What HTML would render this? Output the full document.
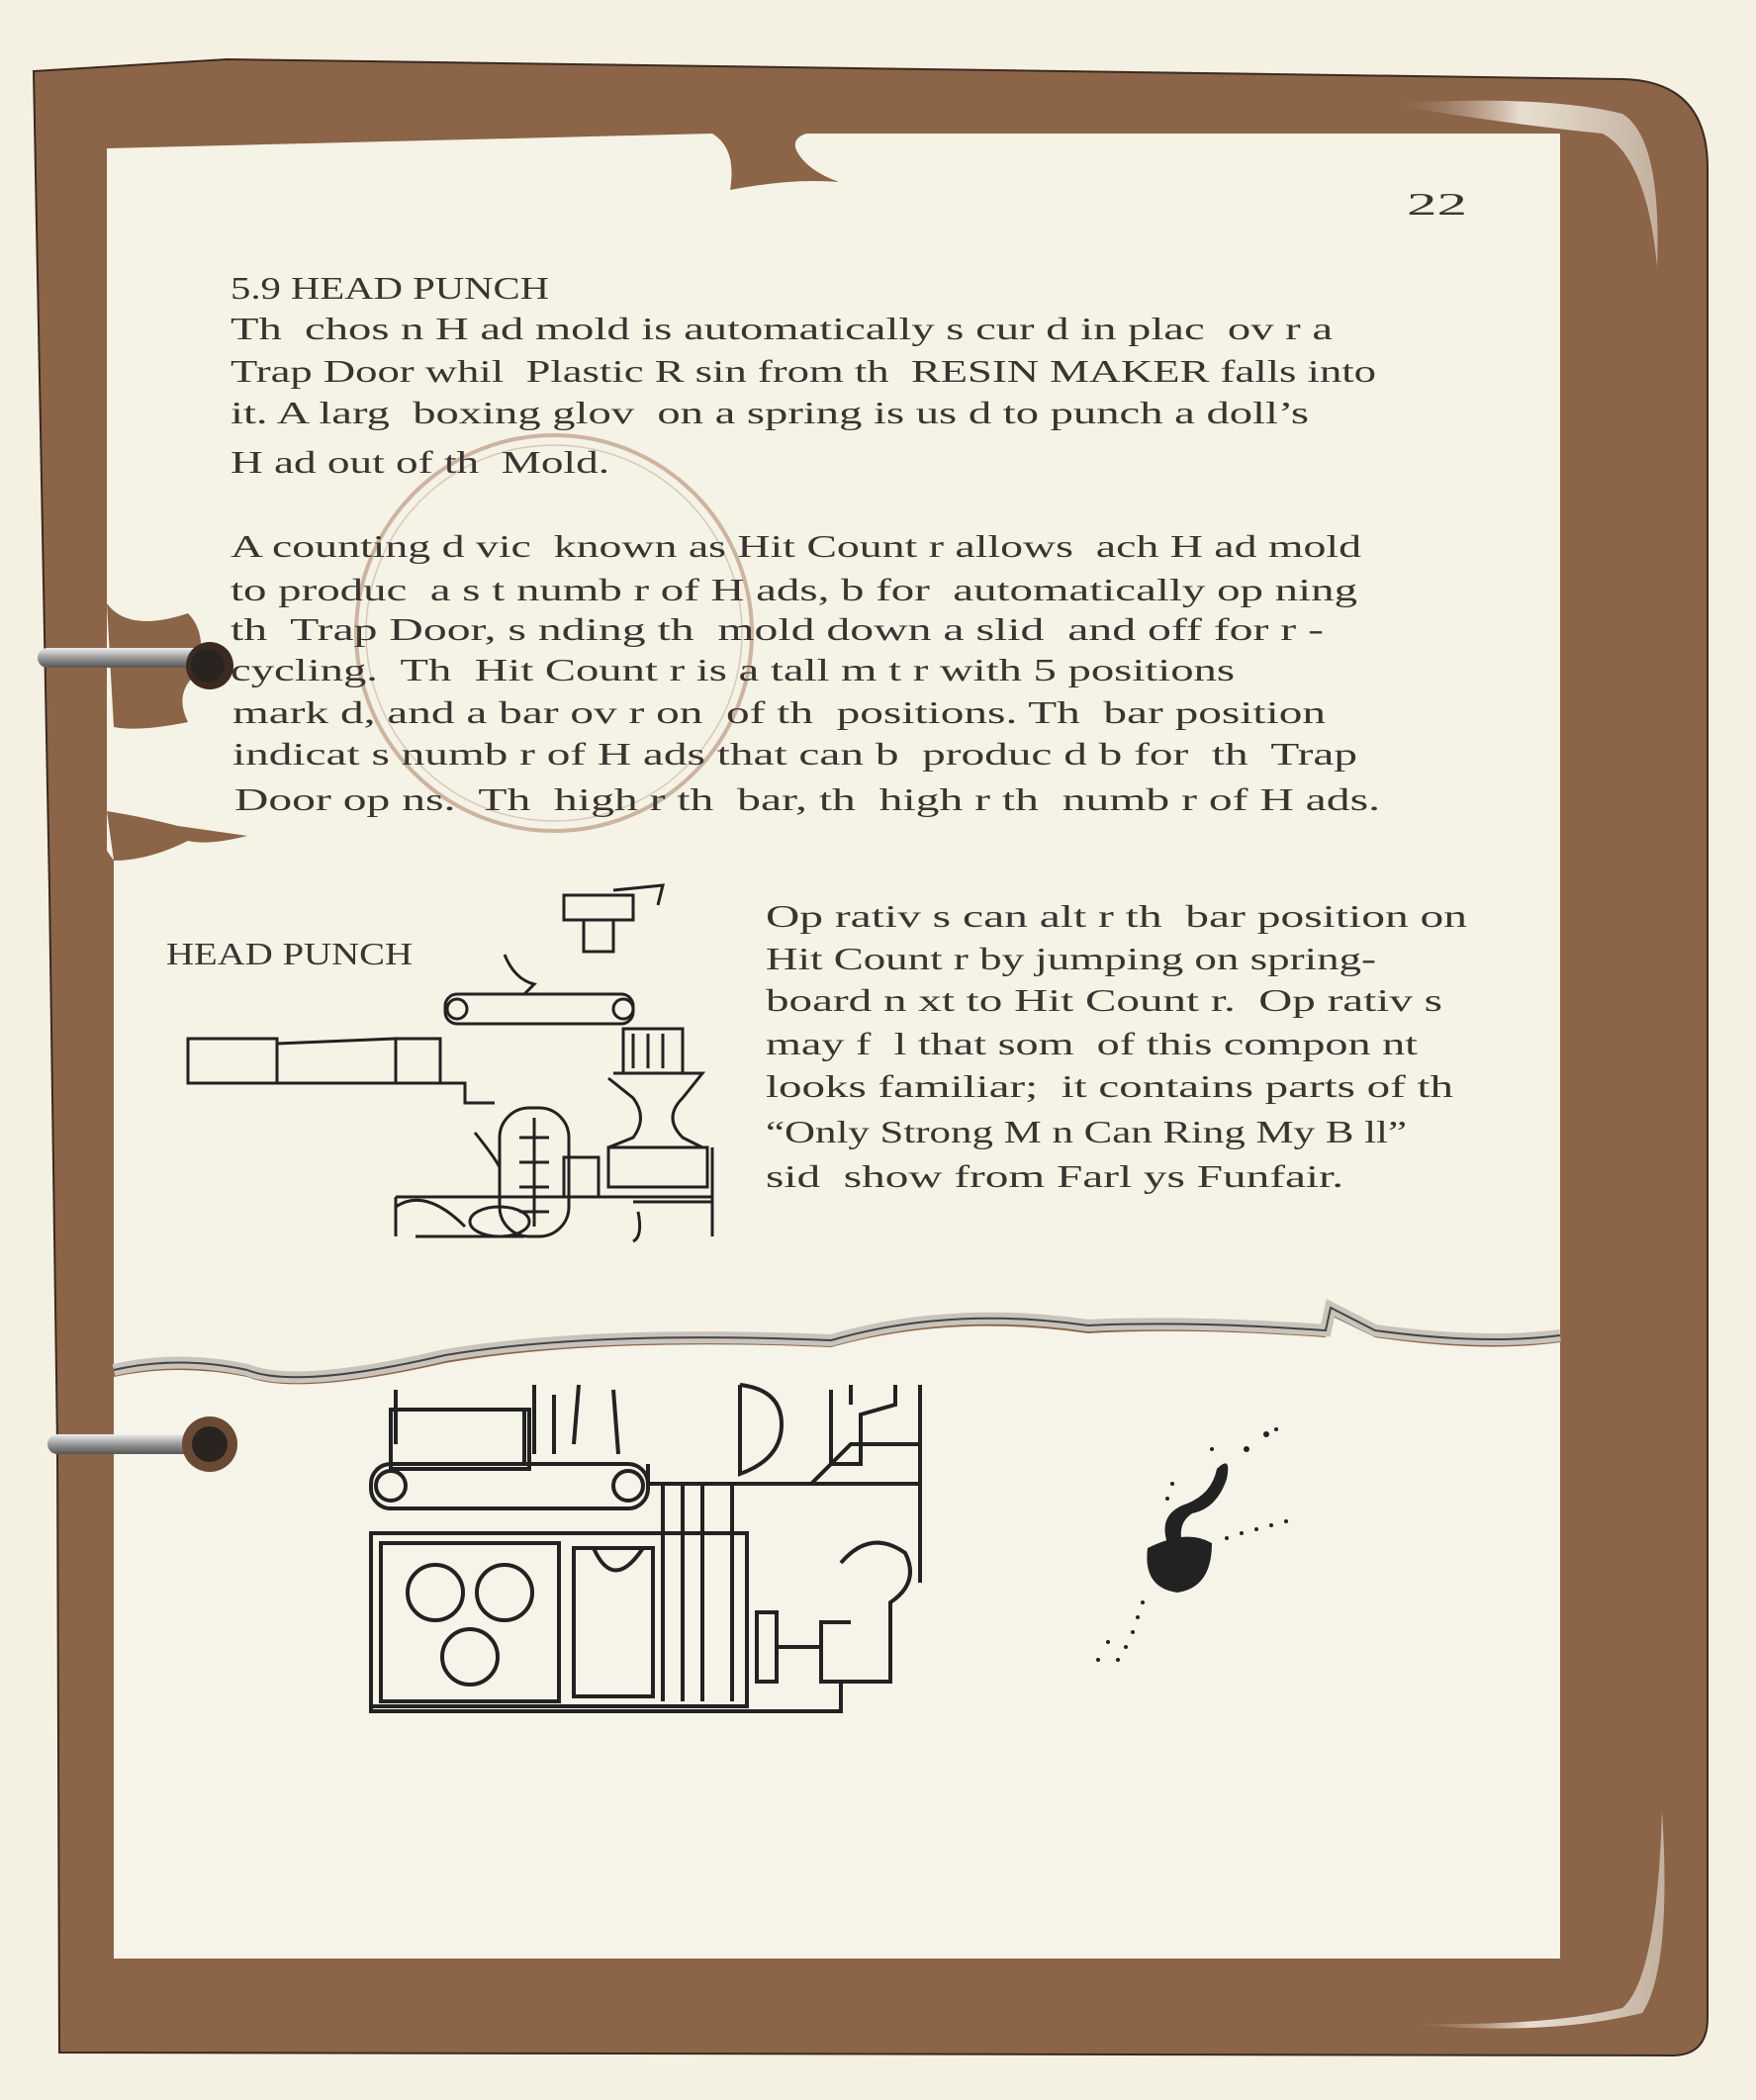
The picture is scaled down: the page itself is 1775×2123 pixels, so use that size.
<!DOCTYPE html>
<html><head><meta charset="utf-8"><style>
html,body{margin:0;padding:0;background:#f4f0e2;}
svg{display:block}
text{font-family:"Liberation Serif",serif;fill:#3a3430;font-size:32px}
</style></head><body>
<svg width="1775" height="2123" viewBox="0 0 1775 2123" xmlns="http://www.w3.org/2000/svg">
<defs>
<linearGradient id="rod" x1="0" y1="0" x2="0" y2="1"><stop offset="0" stop-color="#eee"/><stop offset="0.5" stop-color="#999"/><stop offset="1" stop-color="#555"/></linearGradient>
<linearGradient id="hl" x1="0" y1="0" x2="1" y2="0"><stop offset="0" stop-color="#8c6448" stop-opacity="0"/><stop offset="0.5" stop-color="#f2ece0"/><stop offset="1" stop-color="#c9b9a8"/></linearGradient>
</defs>
<rect width="1775" height="2123" fill="#f4f0e2"/>
<path d="M34 72 L230 60 L1640 80 Q1726 82 1726 170 L1726 2040 Q1726 2078 1690 2078 L60 2075 L58 1460 L50 900 Z" fill="#8c6448" stroke="#3a2a20" stroke-width="2"/>
<path d="M1400 105 Q1560 95 1640 115 Q1680 140 1675 270 Q1665 160 1620 135 Q1520 125 1400 105 Z" fill="url(#hl)" opacity="0.9"/>
<path d="M1410 2045 Q1560 2050 1640 2030 Q1675 2000 1680 1830 Q1690 1990 1660 2035 Q1560 2060 1410 2045 Z" fill="url(#hl)" opacity="0.9"/>
<path d="M108 150 L720 135 Q745 150 738 192 Q800 180 848 184 Q815 172 805 152 Q800 140 815 135 L1577 135 L1577 1350 Q1500 1360 1390 1345 L1345 1322 L1340 1345 Q1200 1335 1100 1340 Q960 1320 840 1355 Q600 1345 450 1370 Q300 1405 250 1385 Q180 1370 115 1385 L115 870 L108 860 Z" fill="#f5f2e6"/>
<path d="M108 610 Q130 640 190 620 Q210 640 200 680 Q175 700 190 730 Q140 740 115 735 Z" fill="#8c6448"/>
<path d="M108 820 Q140 825 180 835 Q215 840 250 845 Q210 855 190 850 Q150 870 115 870 Z" fill="#8c6448"/>
<path d="M115 1392 Q180 1378 250 1392 Q300 1412 450 1378 Q600 1352 840 1362 Q960 1328 1100 1348 Q1200 1342 1340 1352 L1345 1330 L1390 1352 Q1500 1368 1577 1357 L1577 1980 L115 1980 Z" fill="#f6f3e8"/>
<path d="M115 1385 Q180 1370 250 1385 Q300 1405 450 1370 Q600 1345 840 1355 Q960 1320 1100 1340 Q1200 1335 1340 1345 L1345 1322 L1390 1345 Q1500 1360 1577 1350" fill="none" stroke="#c8c4bc" stroke-width="12"/>
<path d="M115 1385 Q180 1370 250 1385 Q300 1405 450 1370 Q600 1345 840 1355 Q960 1320 1100 1340 Q1200 1335 1340 1345 L1345 1322 L1390 1345 Q1500 1360 1577 1350" fill="none" stroke="#444" stroke-width="2"/>
<rect x="38" y="655" width="175" height="20" rx="10" fill="url(#rod)"/>
<circle cx="212" cy="673" r="24" fill="#3a2a20"/><circle cx="210" cy="673" r="17" fill="#2a2420"/>
<rect x="48" y="1450" width="165" height="20" rx="10" fill="url(#rod)"/>
<circle cx="212" cy="1460" r="28" fill="#6a4a35"/><circle cx="212" cy="1460" r="18" fill="#2a2420"/>
<circle cx="560" cy="640" r="200" fill="none" stroke="#b08a70" stroke-width="4" opacity="0.6"/>
<circle cx="560" cy="640" r="190" fill="none" stroke="#b08a70" stroke-width="1.5" opacity="0.4"/>
<text x="1422" y="217" font-size="40" textLength="61" lengthAdjust="spacingAndGlyphs">22</text>
<text x="233" y="302" textLength="322" lengthAdjust="spacingAndGlyphs">5.9 HEAD PUNCH</text>
<text x="233" y="343" textLength="1114" lengthAdjust="spacingAndGlyphs" xml:space="preserve">Th  chos n H ad mold is automatically s cur d in plac  ov r a</text>
<text x="233" y="386" textLength="1158" lengthAdjust="spacingAndGlyphs" xml:space="preserve">Trap Door whil  Plastic R sin from th  RESIN MAKER falls into</text>
<text x="233" y="428" textLength="1090" lengthAdjust="spacingAndGlyphs" xml:space="preserve">it. A larg  boxing glov  on a spring is us d to punch a doll’s</text>
<text x="233" y="478" textLength="383" lengthAdjust="spacingAndGlyphs" xml:space="preserve">H ad out of th  Mold.</text>
<text x="233" y="563" textLength="1143" lengthAdjust="spacingAndGlyphs" xml:space="preserve">A counting d vic  known as Hit Count r allows  ach H ad mold</text>
<text x="233" y="607" textLength="1139" lengthAdjust="spacingAndGlyphs" xml:space="preserve">to produc  a s t numb r of H ads, b for  automatically op ning</text>
<text x="233" y="647" textLength="1105" lengthAdjust="spacingAndGlyphs" xml:space="preserve">th  Trap Door, s nding th  mold down a slid  and off for r -</text>
<text x="233" y="688" textLength="1015" lengthAdjust="spacingAndGlyphs" xml:space="preserve">cycling.  Th  Hit Count r is a tall m t r with 5 positions</text>
<text x="235" y="731" textLength="1105" lengthAdjust="spacingAndGlyphs" xml:space="preserve">mark d, and a bar ov r on  of th  positions. Th  bar position</text>
<text x="235" y="773" textLength="1137" lengthAdjust="spacingAndGlyphs" xml:space="preserve">indicat s numb r of H ads that can b  produc d b for  th  Trap</text>
<text x="237" y="819" textLength="1158" lengthAdjust="spacingAndGlyphs" xml:space="preserve">Door op ns.  Th  high r th  bar, th  high r th  numb r of H ads.</text>
<text x="168" y="975" textLength="249" lengthAdjust="spacingAndGlyphs">HEAD PUNCH</text>
<text x="774" y="937" textLength="709" lengthAdjust="spacingAndGlyphs" xml:space="preserve">Op rativ s can alt r th  bar position on</text>
<text x="774" y="980" textLength="617" lengthAdjust="spacingAndGlyphs" xml:space="preserve">Hit Count r by jumping on spring-</text>
<text x="774" y="1022" textLength="684" lengthAdjust="spacingAndGlyphs" xml:space="preserve">board n xt to Hit Count r.  Op rativ s</text>
<text x="774" y="1066" textLength="659" lengthAdjust="spacingAndGlyphs" xml:space="preserve">may f  l that som  of this compon nt</text>
<text x="774" y="1109" textLength="695" lengthAdjust="spacingAndGlyphs" xml:space="preserve">looks familiar;  it contains parts of th</text>
<text x="774" y="1155" textLength="648" lengthAdjust="spacingAndGlyphs" xml:space="preserve">“Only Strong M n Can Ring My B ll”</text>
<text x="774" y="1200" textLength="584" lengthAdjust="spacingAndGlyphs" xml:space="preserve">sid  show from Farl ys Funfair.</text>
<g fill="none" stroke="#222" stroke-width="3">
<rect x="570" y="905" width="70" height="25"/><rect x="590" y="930" width="30" height="32"/><path d="M620 900 L670 895 L665 915"/>
<path d="M510 965 Q520 990 540 995 L530 1005 L550 1005"/>
<rect x="450" y="1005" width="190" height="30" rx="12"/><circle cx="462" cy="1020" r="10"/><circle cx="630" cy="1020" r="10"/>
<rect x="190" y="1050" width="90" height="45"/><path d="M280 1055 L400 1050 L400 1095 L280 1095"/>
<rect x="400" y="1050" width="45" height="45"/><path d="M400 1095 L470 1095 L470 1115 L500 1115"/>
<rect x="630" y="1040" width="60" height="45"/><path d="M640 1045 L640 1080 M655 1045 L655 1080 M670 1045 L670 1080"/>
<path d="M620 1085 L710 1085 L690 1110 Q670 1130 690 1150 L710 1160 L615 1160 L640 1150 Q655 1130 640 1110 L615 1090"/>
<rect x="615" y="1160" width="100" height="40"/><rect x="505" y="1120" width="70" height="130" rx="30"/>
<path d="M540 1130 L540 1240 M525 1150 L555 1150 M525 1175 L555 1175 M525 1200 L555 1200 M525 1225 L555 1225"/>
<path d="M480 1145 Q500 1170 505 1180"/><rect x="570" y="1170" width="35" height="40"/><path d="M400 1210 L720 1210 M400 1210 L400 1250 M720 1160 L720 1250"/>
<path d="M400 1220 Q430 1200 470 1240 M420 1250 L530 1250"/><ellipse cx="505" cy="1235" rx="30" ry="15"/>
<path d="M640 1215 L720 1215 L720 1250 M645 1225 Q650 1250 640 1255"/>
</g>
<g fill="none" stroke="#222" stroke-width="4">
<path d="M400 1405 L400 1460 M400 1425 L530 1425 L530 1480"/><rect x="395" y="1425" width="140" height="60"/>
<path d="M540 1400 L540 1470 M560 1410 L560 1470 M585 1400 L580 1460 M620 1405 L625 1470"/>
<rect x="375" y="1480" width="280" height="45" rx="20"/><circle cx="395" cy="1502" r="15"/><circle cx="635" cy="1502" r="15"/>
<path d="M655 1480 L655 1500 L930 1500 L930 1400"/>
<path d="M748 1400 L748 1490 Q790 1475 790 1440 Q790 1405 748 1400"/>
<path d="M840 1405 L840 1480 L870 1480 L870 1430 L905 1420 L905 1400 M860 1400 L860 1420"/>
<path d="M790 1500 L820 1500 L860 1460 L930 1460 L930 1600"/>
<rect x="375" y="1550" width="380" height="175"/><rect x="385" y="1560" width="180" height="160"/>
<circle cx="440" cy="1610" r="28"/><circle cx="510" cy="1610" r="28"/><circle cx="475" cy="1675" r="28"/>
<rect x="580" y="1565" width="80" height="150"/><path d="M600 1565 Q620 1610 650 1565"/>
<path d="M670 1500 L670 1720 M690 1500 L690 1720 M710 1500 L710 1720 M740 1500 L740 1720"/>
<path d="M850 1580 Q880 1545 915 1570 Q930 1600 900 1620 L900 1700 L830 1700 L830 1640 L860 1640"/>
<rect x="765" y="1630" width="20" height="70"/><path d="M785 1665 L830 1665"/>
<path d="M375 1725 L375 1730 L850 1730 L850 1700"/>
</g>
<g fill="#222">
<path d="M1160 1565 Q1200 1545 1225 1560 Q1225 1605 1190 1610 Q1155 1605 1160 1565 Z"/>
<path d="M1180 1560 Q1170 1530 1200 1520 Q1225 1510 1230 1485 Q1245 1470 1240 1495 Q1230 1525 1205 1530 Q1190 1540 1195 1560 Z"/>
<circle cx="1260" cy="1465" r="3"/><circle cx="1280" cy="1450" r="3"/><circle cx="1290" cy="1445" r="2"/><circle cx="1225" cy="1465" r="2"/>
<circle cx="1240" cy="1555" r="2"/><circle cx="1255" cy="1550" r="2"/><circle cx="1270" cy="1546" r="2"/><circle cx="1285" cy="1542" r="2"/><circle cx="1300" cy="1538" r="2"/>
<circle cx="1155" cy="1620" r="2"/><circle cx="1150" cy="1635" r="2"/><circle cx="1145" cy="1650" r="2"/><circle cx="1138" cy="1665" r="2"/><circle cx="1130" cy="1678" r="2"/><circle cx="1110" cy="1678" r="2"/><circle cx="1120" cy="1660" r="2"/>
<circle cx="1180" cy="1515" r="2"/><circle cx="1185" cy="1500" r="2"/>
</g>
</svg>
</body></html>
